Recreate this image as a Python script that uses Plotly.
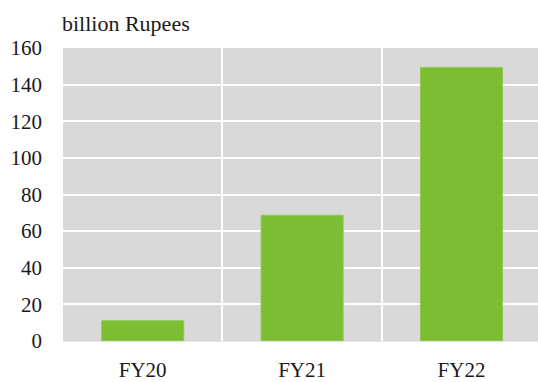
import plotly.graph_objects as go

# Values by fiscal year (billion Rupees)
years = ["FY20", "FY21", "FY22"]
values = [11.1, 68.7, 149.4]
y_ticks = [0, 20, 40, 60, 80, 100, 120, 140, 160]

FONT = "'Liberation Serif', 'Times New Roman', Times, serif"
TEXT = "#1a1a1a"

fig = go.Figure(
    go.Bar(
        x=years,
        y=values,
        width=0.515,
        marker=dict(color="#7cbd31", line=dict(color="#92c95a", width=1)),
        hoverinfo="x+y",
    )
)

fig.update_layout(
    width=538,
    height=382,
    margin=dict(l=63, r=0, t=48, b=36),
    paper_bgcolor="white",
    plot_bgcolor="#d9d9d9",
    showlegend=False,
    font=dict(family=FONT, color=TEXT),
    annotations=[
        dict(
            text="billion Rupees",
            xref="paper", yref="paper",
            x=-0.0063, y=1.035,
            xanchor="left", yanchor="bottom",
            showarrow=False,
            font=dict(family=FONT, size=22, color=TEXT),
        )
    ],
)

fig.update_xaxes(
    range=[-0.5, 2.48],
    tickson="boundaries",
    showgrid=True,
    gridcolor="white",
    gridwidth=2,
    ticks="",
    showline=False,
    ticklabelstandoff=14,
    tickfont=dict(family=FONT, size=21, color=TEXT),
)

fig.update_yaxes(
    range=[0, 160],
    tickvals=y_ticks,
    showgrid=True,
    gridcolor="white",
    gridwidth=2,
    zeroline=True,
    zerolinecolor="#e6e6e6",
    zerolinewidth=1,
    ticks="",
    showline=False,
    ticklabelstandoff=20,
    tickfont=dict(family=FONT, size=21, color=TEXT),
)

fig.write_html("out.html")
